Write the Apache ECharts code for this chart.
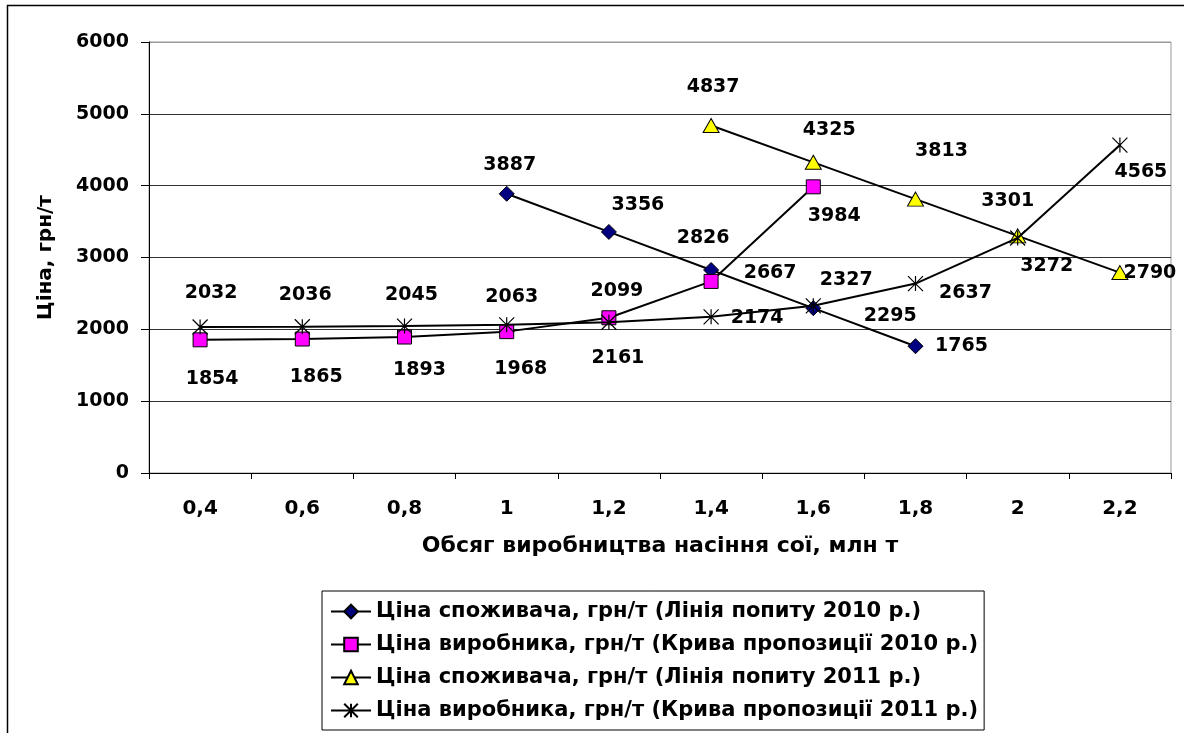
<!DOCTYPE html>
<html>
<head>
<meta charset="utf-8">
<script src="https://cdn.jsdelivr.net/npm/echarts@6/dist/echarts.min.js"></script>
<style>
html,body{margin:0;padding:0;background:#fff;}
#chart{width:1184px;height:733px;}
</style>
</head>
<body>
<div id="chart"></div>
<script>
// ---- data ----
const categories = ['0,4','0,6','0,8','1','1,2','1,4','1,6','1,8','2','2,2'];
const demand2010 = [null,null,null,3887,3356,2826,2295,1765,null,null];
const supply2010 = [1854,1865,1893,1968,2161,2667,3984,null,null,null];
const demand2011 = [null,null,null,null,null,4837,4325,3813,3301,2790];
const supply2011 = [2032,2036,2045,2063,2099,2174,2327,2637,3272,4565];
const yTicks = [0,1000,2000,3000,4000,5000,6000];

const seriesNames = [
  'Ціна споживача, грн/т (Лінія попиту 2010 р.)',
  'Ціна виробника, грн/т (Крива пропозиції 2010 р.)',
  'Ціна споживача, грн/т (Лінія попиту 2011 р.)',
  'Ціна виробника, грн/т (Крива пропозиції 2011 р.)'
];
const xTitle = 'Обсяг виробництва насіння сої, млн т';
const yTitle = 'Ціна, грн/т';

// label offsets (label centre relative to point)
const offDemand2010 = [null,null,null,[3,-29],[29,-27],[-8,-32],[77,8],[46,0],null,null];
const offSupply2010 = [[12,39],[14,38],[15,33],[14,37],[9,40],[59,-8],[21,29],null,null,null];
const offDemand2011 = [null,null,null,null,null,[2,-38],[16,-32],[26,-48],[-10,-35],[30,0]];
const offSupply2011 = [[11,-34],[3,-32],[7,-31],[5,-28],[8,-31],[46,1],[33,-26],[50,9],[29,28],[21,27]];

const FONT = 'DejaVu Sans';

function buildData(vals, offs){
  return vals.map((v,i)=> v==null ? '-' : {value:v, label:{offset:offs[i]}});
}

const labelStyle = {
  show:true, position:'inside', color:'#000',
  fontFamily:FONT, fontWeight:'bold', fontSize:19
};

const chart = echarts.init(document.getElementById('chart'), null, {renderer:'canvas'});
const option = {
  backgroundColor:'#fff',
  animation:false,
  graphic:[{
    type:'rect', shape:{x:7.5,y:5.5,width:1180,height:800},
    style:{fill:null, stroke:'#000', lineWidth:1.5}, silent:true, z:-1
  }],
  grid:{left:149, right:13, top:42, bottom:260, show:true, borderColor:'#999', borderWidth:1},
  legend:{
    orient:'vertical', left:322, top:591,
    backgroundColor:'#fff', borderColor:'#000', borderWidth:1,
    padding:[10,6,9,8],
    itemWidth:40, itemHeight:17, itemGap:12,
    textStyle:{fontFamily:FONT, fontWeight:'bold', fontSize:21, color:'#000', lineHeight:21},
    data:seriesNames
  },
  xAxis:{
    type:'category', data:categories, boundaryGap:true,
    axisLine:{lineStyle:{color:'#000', width:1}},
    axisTick:{show:true, length:6, lineStyle:{color:'#000'}},
    axisLabel:{color:'#000', fontFamily:FONT, fontWeight:'bold', fontSize:20, margin:26},
    name:xTitle, nameLocation:'middle', nameGap:62,
    nameTextStyle:{color:'#000', fontFamily:FONT, fontWeight:'bold', fontSize:22}
  },
  yAxis:{
    type:'value', min:yTicks[0], max:yTicks[yTicks.length-1], interval:1000,
    axisLine:{show:true, lineStyle:{color:'#000', width:1}},
    axisTick:{show:true, length:8, lineStyle:{color:'#000'}},
    axisLabel:{color:'#000', fontFamily:FONT, fontWeight:'bold', fontSize:19, margin:20,
      formatter:(v)=>String(v)},
    splitLine:{show:true, lineStyle:{color:['#000','#333','#333','#333','#333','#333','#999'], width:1}},
    name:yTitle, nameLocation:'middle', nameGap:93, nameRotate:90,
    nameTextStyle:{color:'#000', fontFamily:FONT, fontWeight:'bold', fontSize:20}
  },
  series:[
    {
      name:seriesNames[0], type:'line', data:buildData(demand2010, offDemand2010),
      symbol:'diamond', symbolSize:[15,15], showAllSymbol:true,
      lineStyle:{color:'#000', width:2},
      itemStyle:{color:'#000080', borderColor:'#000', borderWidth:1},
      label:labelStyle, z:2
    },
    {
      name:seriesNames[1], type:'line', data:buildData(supply2010, offSupply2010),
      symbol:'rect', symbolSize:14, showAllSymbol:true,
      lineStyle:{color:'#000', width:2},
      itemStyle:{color:'#FF00FF', borderColor:'#000', borderWidth:1},
      label:labelStyle, z:3
    },
    {
      name:seriesNames[2], type:'line', data:buildData(demand2011, offDemand2011),
      symbol:'triangle', symbolSize:[16,14], showAllSymbol:true,
      lineStyle:{color:'#000', width:2},
      itemStyle:{color:'#FFFF00', borderColor:'#000', borderWidth:1},
      label:labelStyle, z:4
    },
    {
      name:seriesNames[3], type:'line', data:buildData(supply2011, offSupply2011),
      symbol:'path://M0,0L10,10M10,0L0,10M5,0L5,10', symbolSize:[15,15], showAllSymbol:true,
      lineStyle:{color:'#000', width:2},
      itemStyle:{color:'#000', borderColor:'#000', borderWidth:1.2},
      label:labelStyle, z:5
    }
  ]
};
chart.setOption(option);
</script>
</body>
</html>
